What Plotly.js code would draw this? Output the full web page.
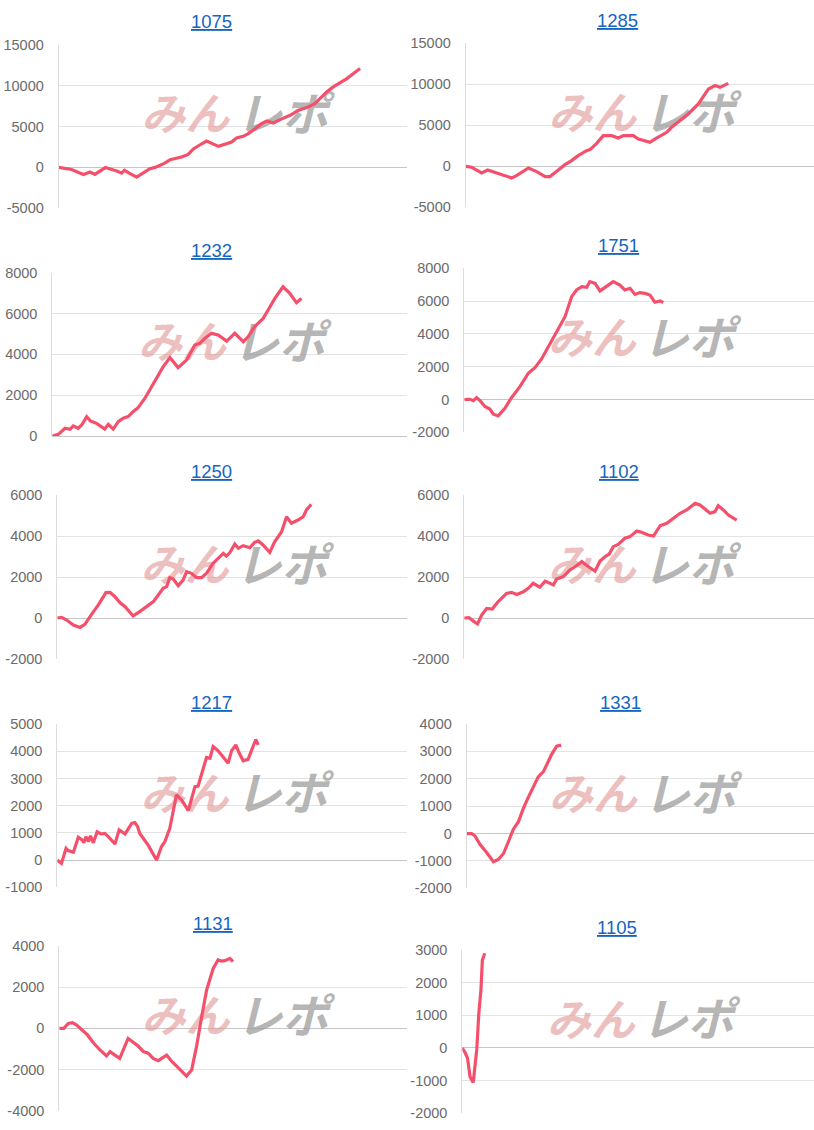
<!DOCTYPE html>
<html>
<head>
<meta charset="utf-8">
<script src="https://cdn.plot.ly/plotly-3.0.1.min.js"></script>
<style>html,body{margin:0;padding:0;background:#fff;}#chart{width:814px;height:1130px;}</style>
</head>
<body>
<div id="chart"></div>
<script>
// ---- DATA (x = progress in % of the common game span, y = coin difference) ----
const titles = ['1075','1285','1232','1751','1250','1102','1217','1331','1131','1105'];

const x_1075 = [0,3.7,7.1,9.0,10.4,13.4,16.7,18.1,18.9,20.0,22.4,24.3,26.2,27.7,30.5,32.0,35.3,37.2,38.7,41.1,42.5,45.9,49.7,51.1,53.0,54.5,55.9,58.3,59.8,61.7,63.6,66.5,68.9,71.3,73.6,75.1,77.0,78.9,80.8,82.8,84.7,86.6];
const y_1075 = [0,-250,-860,-570,-860,-20,-450,-700,-350,-650,-1180,-700,-150,0,520,940,1260,1590,2250,2890,3220,2570,3100,3590,3800,4120,4610,5350,5670,5430,5840,6370,6980,7310,7800,8410,9220,9840,10330,10860,11470,12080];

const x_1285 = [0,1.7,4.6,6.3,13.2,14.6,18.0,20.4,22.8,24.2,27.6,28.5,30.4,32.3,34.7,35.7,37.6,39.5,41.9,43.8,45.3,48.1,49.6,52.9,54.4,56.3,57.7,59.1,62.0,63.9,66.8,68.2,69.7,71.6,73.0,75.4];
const y_1285 = [0,-120,-810,-450,-1420,-1140,-200,-650,-1260,-1260,-120,200,690,1300,1910,2030,2800,3740,3740,3460,3740,3740,3330,2930,3330,3740,4150,4760,5770,6380,7600,8410,9430,9840,9630,10120];

const x_1232 = [0,1.7,3.6,5.0,5.9,7.3,8.3,9.7,10.8,12.5,14.8,15.8,17.2,18.6,20.0,21.4,22.8,24.2,26.1,27.5,28.9,31.3,33.2,35.5,37.9,40.2,41.6,43.0,44.9,46.8,49.2,51.5,53.9,55.3,57.1,59.5,60.9,62.8,65.1,67.0,68.9,70.3];
const y_1232 = [0,80,380,330,490,380,540,950,730,620,340,570,340,700,870,950,1190,1390,1840,2250,2660,3400,3840,3350,3720,4460,4540,4780,5030,4950,4650,5030,4620,4870,5360,5760,6170,6740,7310,6990,6530,6740];

const x_1751 = [0,1.6,2.6,3.5,4.5,5.9,7.3,8.3,9.7,11.6,13.5,15.9,18.3,20.2,22.1,25.0,26.9,28.8,30.7,32.1,33.6,35.0,35.9,37.4,38.8,40.7,42.6,44.5,45.9,47.4,48.8,50.2,51.7,53.1,54.5,56.0,56.9];
const y_1751 = [0,10,-70,110,-70,-430,-580,-900,-1000,-540,110,780,1600,1940,2470,3630,4300,5050,6270,6680,6880,6840,7190,7080,6620,6880,7190,6980,6680,6780,6410,6520,6470,6370,5930,6010,5910];

const x_1250 = [0,1.2,2.7,4.6,6.5,7.9,9.8,11.7,13.9,15.1,16.5,17.9,19.4,21.7,23.6,25.1,27.5,28.9,30.3,31.3,32.2,33.2,34.6,36.0,37.0,38.4,39.8,41.3,42.7,44.6,46.5,47.5,48.4,49.4,50.8,51.8,53.2,55.1,56.5,57.5,58.9,60.8,62.2,64.2,65.6,67.0,68.9,70.4,71.3,72.7];
const y_1250 = [0,30,-100,-340,-460,-310,180,630,1240,1250,1040,750,550,100,310,500,800,1120,1450,1530,1970,1900,1580,1850,2260,2180,1970,1970,2180,2670,2990,3150,3020,3190,3610,3400,3530,3430,3690,3760,3560,3200,3720,4210,4940,4620,4780,4940,5270,5540];

const x_1102 = [0,1.3,2.6,3.8,5.0,6.4,8.0,9.7,12.1,13.5,15.0,16.9,18.3,19.7,21.6,23.1,25.5,26.4,28.3,30.2,32.1,33.6,35.5,37.4,38.8,40.2,41.4,42.6,44.0,45.9,47.4,49.3,50.7,52.6,54.1,56.0,57.9,59.8,61.7,63.6,66.0,67.4,68.8,70.3,71.7,72.6,74.1,75.5,77.9];
const y_1102 = [0,20,-150,-290,150,470,440,800,1200,1250,1150,1280,1450,1690,1500,1800,1610,1900,2020,2340,2550,2750,2500,2290,2780,2990,3110,3480,3590,3890,3970,4240,4180,4050,4000,4500,4620,4860,5110,5270,5590,5510,5320,5110,5190,5480,5270,5020,4780];

const x_1217 = [0,1.2,2.5,3.1,4.6,6.0,7.1,7.6,8.2,8.9,9.5,10.3,11.4,12.5,13.6,14.6,16.5,17.7,19.4,21.3,22.2,23.0,23.6,25.1,26.0,28.4,29.8,30.8,32.2,34.1,35.6,37.5,39.4,40.3,41.3,42.7,43.7,44.6,46.0,48.9,49.9,51.1,52.0,53.2,54.6,55.6,56.8,57.5];
const y_1217 = [0,-120,430,350,290,840,740,640,860,680,890,640,1040,960,980,860,590,1110,960,1350,1380,1230,980,710,550,0,490,680,1170,2400,2210,1820,2700,2720,3190,3770,3740,4170,4020,3560,4020,4230,3950,3650,3700,4050,4430,4230];

const x_1331 = [0,1.4,2.4,3.8,5.8,7.7,9.1,10.6,12.0,13.4,14.9,16.3,17.8,19.2,20.6,22.1,23.0,24.5,25.9,27.2];
const y_1331 = [0,0,-90,-390,-700,-1030,-950,-730,-300,150,430,920,1340,1730,2070,2260,2500,2900,3190,3230];

const x_1131 = [0,1.3,2.6,3.8,5.0,6.4,8.1,9.8,11.7,13.6,14.6,16.0,17.4,19.8,21.3,22.7,24.2,25.6,27.0,28.5,30.9,32.3,34.2,35.7,36.6,38.1,39.5,40.9,42.4,44.3,45.7,46.7,47.7,49.1,50.0];
const y_1131 = [0,0,240,280,160,-80,-320,-700,-1050,-1340,-1130,-1300,-1460,-490,-700,-860,-1130,-1210,-1460,-1570,-1300,-1590,-1910,-2150,-2320,-2020,-890,490,1860,2910,3320,3270,3290,3400,3240];

const x_1105 = [0,0.8,1.5,2.2,3.1,4.1,4.7,5.3,5.7,6.4];
const y_1105 = [0,-140,-320,-880,-1060,-60,1060,1780,2690,2900];

// y-axis tick values per panel
const yTicks_1075 = [-5000,0,5000,10000,15000];
const yTicks_1285 = [-5000,0,5000,10000,15000];
const yTicks_1232 = [0,2000,4000,6000,8000];
const yTicks_1751 = [-2000,0,2000,4000,6000,8000];
const yTicks_1250 = [-2000,0,2000,4000,6000];
const yTicks_1102 = [-2000,0,2000,4000,6000];
const yTicks_1217 = [-1000,0,1000,2000,3000,4000,5000];
const yTicks_1331 = [-2000,-1000,0,1000,2000,3000,4000];
const yTicks_1131 = [-4000,-2000,0,2000,4000];
const yTicks_1105 = [-2000,-1000,0,1000,2000,3000];

const seriesX = [x_1075,x_1285,x_1232,x_1751,x_1250,x_1102,x_1217,x_1331,x_1131,x_1105];
const seriesY = [y_1075,y_1285,y_1232,y_1751,y_1250,y_1102,y_1217,y_1331,y_1131,y_1105];
const seriesTicks = [yTicks_1075,yTicks_1285,yTicks_1232,yTicks_1751,yTicks_1250,yTicks_1102,yTicks_1217,yTicks_1331,yTicks_1131,yTicks_1105];
const watermarkA = 'みん';
const watermarkB = 'レポ';

// ---- LAYOUT (pixel boxes of each plot area) ----
const W = 814, H = 1130;
const boxes = [
  [58.7,406.7,44.7,208.3],[465.7,814,43.3,207.3],
  [52.3,406.7,272.7,436],[464.3,814,268.3,432.3],
  [57.3,406.7,495,659],[464.3,814,495,659],
  [57.3,406.7,724,887.3],[466.7,814,724,888.3],
  [59.3,406.7,946,1110.7],[462.3,814,950,1113.3]
];
const titlePos = [[211,21],[617,20],[211,250],[618,246],[211,472],[619,472],[211,702],[620,702],[213,923],[617,927]];

const XR = [0,100];
const traces = [];
const layout = {
  width: W, height: H,
  margin: {l:0,r:0,t:0,b:0},
  paper_bgcolor: '#fff', plot_bgcolor: '#fff',
  showlegend: false,
  font: {family: 'Arial, "Liberation Sans", sans-serif', color: '#666'},
  annotations: []
};

for (let i = 0; i < 10; i++) {
  const n = i + 1;
  const xa = 'xaxis' + (n === 1 ? '' : n), ya = 'yaxis' + (n === 1 ? '' : n);
  const xr = 'x' + (n === 1 ? '' : n), yr = 'y' + (n === 1 ? '' : n);
  const [x0,x1,top,bot] = boxes[i];
  const tv = seriesTicks[i];
  const ymin = tv[0], ymax = tv[tv.length-1];
  layout[xa] = {
    domain: [x0/W, Math.min(1, x1/W)], range: XR, anchor: yr,
    showgrid: false, zeroline: false, showline: false, showticklabels: false, ticks: '', fixedrange: true
  };
  layout[ya] = {
    domain: [1 - bot/H, 1 - top/H], range: [ymin, ymax], anchor: xr,
    tickmode: 'array', tickvals: tv, ticktext: tv.map(v => String(v)),
    showgrid: true, gridcolor: '#e3e3e3', gridwidth: 1,
    zeroline: true, zerolinecolor: '#c6c6c6', zerolinewidth: 1,
    showline: true, linecolor: '#dcdcdc', linewidth: 1,
    ticks: '', ticklabelstandoff: 11,
    tickfont: {size: 14.5, color: '#6b6b6b', family: 'Arial, "Liberation Sans", sans-serif'},
    fixedrange: true
  };
  // watermark (drawn first, under the line)
  const hPx = bot - top;
  const wmY = (ymin + ymax) / 2 + 7 / hPx * (ymax - ymin);
  traces.push({
    type: 'scatter', mode: 'text', x: [(XR[0]+XR[1])/2 - 1], y: [wmY], text: [watermarkA],
    textposition: 'middle left', xaxis: xr, yaxis: yr, hoverinfo: 'skip', cliponaxis: false,
    textfont: {family: '"Noto Sans CJK JP", sans-serif', size: 44, color: 'rgba(226,150,150,0.6)', weight: 'bold', style: 'italic'}
  });
  traces.push({
    type: 'scatter', mode: 'text', x: [(XR[0]+XR[1])/2 + 1], y: [wmY], text: [watermarkB],
    textposition: 'middle right', xaxis: xr, yaxis: yr, hoverinfo: 'skip', cliponaxis: false,
    textfont: {family: '"Noto Sans CJK JP", sans-serif', size: 46, color: 'rgba(150,150,150,0.7)', weight: 'bold', style: 'italic'}
  });
  traces.push({
    type: 'scatter', mode: 'lines', x: seriesX[i], y: seriesY[i], xaxis: xr, yaxis: yr,
    line: {color: '#f4506b', width: 3.2}, hoverinfo: 'skip', cliponaxis: false
  });
  layout.annotations.push({
    text: titles[i], xref: 'paper', yref: 'paper',
    x: titlePos[i][0]/W, y: 1 - titlePos[i][1]/H, xanchor: 'center', yanchor: 'middle',
    showarrow: false,
    font: {size: 18.5, color: '#1565c0', family: 'Arial, "Liberation Sans", sans-serif', lineposition: 'under'}
  });
}

Plotly.newPlot('chart', traces, layout, {staticPlot: true, displayModeBar: false});
</script>
</body>
</html>
